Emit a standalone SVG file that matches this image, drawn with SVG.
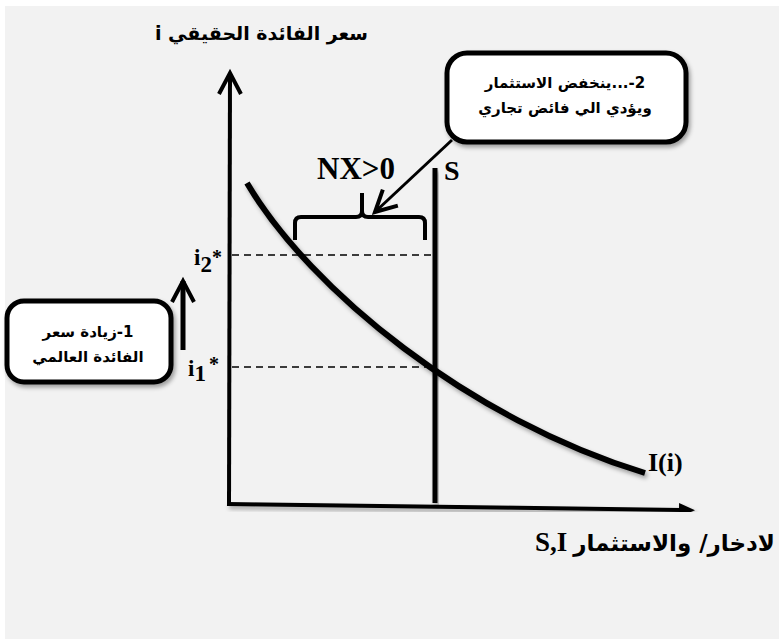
<svg xmlns="http://www.w3.org/2000/svg" width="779" height="639" viewBox="0 0 779 639">
<defs>
<style>
.ar{font-family:"DejaVu Sans","Noto Sans",sans-serif;font-weight:bold;fill:#000}
.tm{font-family:"Liberation Serif","Times New Roman",serif;font-weight:bold;fill:#000}
.ln{stroke:#000;fill:none}
.box{fill:#fff;stroke:#000;stroke-width:5}
</style>
<filter id="sh" x="-20%" y="-20%" width="140%" height="140%"><feDropShadow dx="2" dy="3" stdDeviation="2" flood-color="#000" flood-opacity="0.35"/></filter>
<marker id="chev" markerUnits="userSpaceOnUse" markerWidth="30" markerHeight="30" viewBox="0 0 30 30" refX="25" refY="15" orient="auto" overflow="visible"><path d="M4,4 L25,15 L4,26" fill="none" stroke="#000" stroke-width="4"/></marker>
<marker id="tri" markerUnits="userSpaceOnUse" markerWidth="20" markerHeight="16" viewBox="0 0 20 16" refX="2" refY="8" orient="auto"><path d="M0,1 L16,8 L0,15 z" fill="#000"/></marker>
</defs>
<rect x="0" y="0" width="779" height="639" fill="#fff"/>
<rect x="5" y="6" width="774" height="633" fill="#f2f2f2"/>

<g id="connectors">
<line class="ln" x1="229" y1="504" x2="230" y2="73" stroke-width="4" marker-end="url(#chev)"/>
<line class="ln" x1="227" y1="504" x2="681" y2="510" stroke-width="4" marker-end="url(#tri)" filter="url(#sh)"/>
<line class="ln" x1="232" y1="255" x2="435" y2="255" stroke-width="1.3" stroke-dasharray="7 5"/>
<line class="ln" x1="232" y1="367" x2="435" y2="367" stroke-width="1.3" stroke-dasharray="7 5"/>
<rect x="432.5" y="168" width="5" height="335" fill="#000" filter="url(#sh)"/>
<path class="ln" d="M247,183 C310,290 470,420 645,473" stroke-width="6" filter="url(#sh)"/>
<path class="ln" d="M295,240 L295,223 Q295,217 301,217 L356,217 Q362,217 362,211 L362,193 M362,211 Q362,217 368,217 L419,217 Q425,217 425,223 L425,240" stroke-width="4"/>
<line class="ln" x1="452" y1="140" x2="375" y2="212" stroke-width="3" marker-end="url(#chev)"/>
<line class="ln" x1="183" y1="350" x2="183" y2="281" stroke-width="5" marker-end="url(#chev)"/>
</g>

<g id="title">
<text class="ar" x="368" y="40" font-size="19" text-anchor="end">&#x202B;سعر الفائدة الحقيقي i&#x202C;</text>
</g>

<g id="box2">
<rect class="box" x="447" y="53" width="239" height="89" rx="20" filter="url(#sh)"/>
<text class="ar" x="565" y="88" font-size="15" text-anchor="middle">&#x202B;2-...ينخفض الاستثمار&#x202C;</text>
<text class="ar" x="565" y="113" font-size="15" text-anchor="middle">&#x202B;ويؤدي الي فائض تجاري&#x202C;</text>
</g>

<g id="box1">
<rect class="box" x="7" y="301" width="164" height="81" rx="17" filter="url(#sh)"/>
<text class="ar" x="88" y="337" font-size="15" text-anchor="middle">&#x202B;1-زيادة سعر&#x202C;</text>
<text class="ar" x="88" y="362" font-size="15" text-anchor="middle">&#x202B;الفائدة العالمي&#x202C;</text>
</g>

<g id="labels">
<text class="tm" x="317" y="179" font-size="31">NX&gt;0</text>
<text class="tm" x="444" y="180" font-size="28">S</text>
<text class="tm" x="194" y="265" font-size="23">i<tspan y="272">2</tspan><tspan y="264" font-size="20">*</tspan></text>
<text class="tm" x="188" y="376" font-size="23">i<tspan y="381">1</tspan><tspan y="371" font-size="20" dx="3">*</tspan></text>
<text class="tm" x="648" y="471" font-size="26">I(i)</text>
<text class="tm" x="535" y="551" font-size="27">S,I</text>
<text class="ar" x="775" y="551" font-size="23" text-anchor="end">&#x202B;لادخار/ والاستثمار&#x202C;</text>
</g>
</svg>
